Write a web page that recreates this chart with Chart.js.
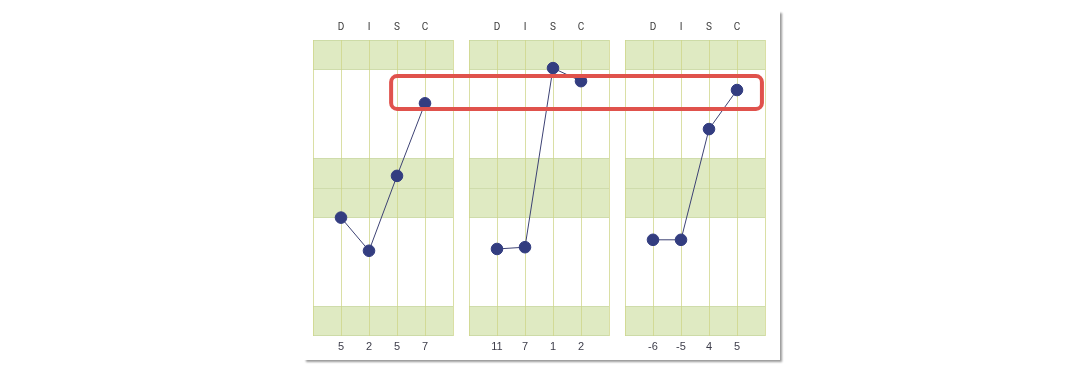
<!DOCTYPE html>
<html>
<head>
<meta charset="utf-8">
<script src="https://cdn.jsdelivr.net/npm/chart.js@4.4.1/dist/chart.umd.min.js"></script>
<style>
  html, body { margin: 0; padding: 0; background: #ffffff; }
  #wrap { position: relative; width: 1080px; height: 372px; overflow: hidden; }
  #card { position: absolute; left: 303px; top: 10px; width: 477px; height: 350px; background: #fff;
          box-shadow: 2px 2px 2px -0.5px rgba(0,0,0,0.4); }
  canvas { position: absolute; left: 0; top: 0; }
</style>
</head>
<body>
<div id="wrap">
  <div id="card"></div>
  <canvas id="c" width="1080" height="372"></canvas>
</div>
<script>
// ---- data ----
const factors = ['D', 'I', 'S', 'C'];
const panelNames = ['Graph 1', 'Graph 2', 'Graph 3'];
const scoresGraph1 = [5, 2, 5, 7];
const scoresGraph2 = [11, 7, 1, 2];
const scoresGraph3 = [-6, -5, 4, 5];
const plotGraph1 = [4.0, 2.88, 5.41, 7.86];
const plotGraph2 = [2.94, 3.0, 9.05, 8.61];
const plotGraph3 = [3.25, 3.25, 6.99, 8.31];
// shaded zones on the 0..10 profile scale
const bandRanges = [[9, 10], [4, 6], [0, 1]];
const bandLines = [5];
// highlight box (panel index / position within panel, profile value)
const highlight = { fromPanel: 0, fromPos: 2.79, toPanel: 2, toPos: 4.89, yTop: 8.78, yBottom: 7.67 };

const scores = [scoresGraph1, scoresGraph2, scoresGraph3];
const plots = [plotGraph1, plotGraph2, plotGraph3];

// ---- layout in x units ----
const panelWidth = 5;        // positions 0..5, factors at 1..4
const panelGap = 4 / 7;
const offsets = panelNames.map((_, i) => i * (panelWidth + panelGap));
const xMax = offsets[2] + panelWidth;

const tickVals = [];
offsets.forEach(o => { for (let k = 0; k <= panelWidth; k++) tickVals.push(o + k); });

function labelFor(v, kind) {
  for (let p = 0; p < offsets.length; p++) {
    const k = Math.round((v - offsets[p]) * 1000) / 1000;
    if (k >= 1 && k <= 4 && Number.isInteger(k)) {
      return kind === 'top' ? factors[k - 1] : String(scores[p][k - 1]);
    }
  }
  return '';
}

const datasets = plots.map((vals, p) => ({
  label: panelNames[p],
  data: vals.map((v, i) => ({ x: offsets[p] + i + 1, y: v })),
  borderColor: '#3d4274',
  borderWidth: 1,
  pointBackgroundColor: '#333d80',
  pointBorderColor: '#333d80',
  pointRadius: 5.8,
  pointHoverRadius: 5.8,
  tension: 0,
  xAxisID: 'x',
  yAxisID: 'y'
}));

const bgPlugin = {
  id: 'bg',
  beforeDatasetsDraw(chart) {
    const { ctx, scales: { x, y } } = chart;
    ctx.save();
    offsets.forEach(o => {
      const l = x.getPixelForValue(o), r = x.getPixelForValue(o + panelWidth);
      bandRanges.forEach(([a, b]) => {
        const t = y.getPixelForValue(b), btm = y.getPixelForValue(a);
        ctx.fillStyle = '#dfeac2';
        ctx.fillRect(l, t, r - l, btm - t);
        ctx.strokeStyle = 'rgba(200,215,160,0.8)';
        ctx.lineWidth = 1;
        ctx.beginPath();
        ctx.moveTo(l, Math.round(t) + 0.5); ctx.lineTo(r, Math.round(t) + 0.5);
        ctx.moveTo(l, Math.round(btm) - 0.5); ctx.lineTo(r, Math.round(btm) - 0.5);
        ctx.stroke();
      });
      bandLines.forEach(v => {
        const py = Math.round(y.getPixelForValue(v)) + 0.5;
        ctx.strokeStyle = 'rgba(205,218,170,0.9)';
        ctx.beginPath(); ctx.moveTo(l, py); ctx.lineTo(r, py); ctx.stroke();
      });
      for (let k = 0; k <= panelWidth; k++) {
        const px = Math.round(x.getPixelForValue(o + k)) + 0.5;
        ctx.strokeStyle = 'rgba(205,212,135,0.75)';
        ctx.beginPath(); ctx.moveTo(px, y.top); ctx.lineTo(px, y.bottom); ctx.stroke();
      }
    });
    ctx.restore();
  },
  afterDatasetsDraw(chart) {
    const { ctx, scales: { x, y } } = chart;
    const l = x.getPixelForValue(offsets[highlight.fromPanel] + highlight.fromPos);
    const r = x.getPixelForValue(offsets[highlight.toPanel] + highlight.toPos);
    const t = y.getPixelForValue(highlight.yTop);
    const b = y.getPixelForValue(highlight.yBottom);
    ctx.save();
    ctx.strokeStyle = '#e0524c';
    ctx.lineWidth = 4;
    ctx.beginPath();
    ctx.roundRect(l, t, r - l, b - t, 6);
    ctx.stroke();
    ctx.restore();
  }
};

new Chart(document.getElementById('c'), {
  type: 'line',
  data: { datasets },
  plugins: [bgPlugin],
  options: {
    responsive: false,
    animation: false,
    events: [],
    layout: { padding: { left: 313, right: 315, top: 0, bottom: 0 } },
    plugins: { legend: { display: false }, tooltip: { enabled: false } },
    scales: {
      x: {
        type: 'linear', position: 'top', min: 0, max: xMax,
        afterBuildTicks(s) { s.ticks = tickVals.map(v => ({ value: v })); },
        afterFit(s) { s.height = 40; },
        grid: { display: false, drawTicks: false },
        border: { display: false },
        ticks: {
          autoSkip: false, maxRotation: 0, padding: 7,
          color: '#3a3a3a', font: { family: 'Roboto', size: 10 },
          callback: v => labelFor(v, 'top')
        }
      },
      x2: {
        type: 'linear', position: 'bottom', min: 0, max: xMax,
        afterBuildTicks(s) { s.ticks = tickVals.map(v => ({ value: v })); },
        afterFit(s) { s.height = 36; },
        grid: { display: false, drawTicks: false },
        border: { display: false },
        ticks: {
          autoSkip: false, maxRotation: 0, padding: 4,
          color: '#3d3d4a', font: { family: 'Liberation Sans', size: 11 },
          callback: v => labelFor(v, 'bottom')
        }
      },
      y: { type: 'linear', min: 0, max: 10, display: false }
    }
  }
});
</script>
</body>
</html>
